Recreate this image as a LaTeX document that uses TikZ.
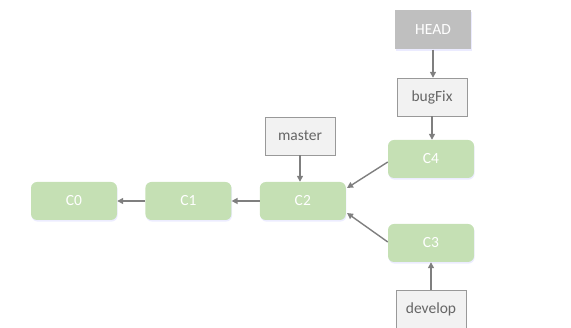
\documentclass[tikz,border=0pt]{standalone}
\usepackage{fontspec}
\setmainfont{Carlito}
\usetikzlibrary{positioning, arrows.meta, shadows}
\definecolor{commitgreen}{HTML}{C5E0B4}
\definecolor{refgray}{HTML}{F2F2F2}
\definecolor{headgray}{HTML}{BFBFBF}
\definecolor{linegray}{HTML}{7F7F7F}

\begin{document}
\begin{tikzpicture}[
      x=1pt, y=-1pt,
      node distance=28pt,
      commit/.style={
        rectangle,
        rounded corners=6pt,
        fill=commitgreen,
        text=white,
        minimum width=86pt,
        minimum height=38pt,
        font=\fontsize{15.5}{18}\selectfont,
        drop shadow={opacity=0.12, shadow xshift=0.6pt, shadow yshift=-1.6pt, fill=blue!60}
      },
      branch/.style={
        draw=linegray!80,
        rectangle,
        fill=refgray,
        text=black!60,
        minimum width=70pt,
        minimum height=38pt,
        font=\fontsize{15.5}{18}\selectfont
      },
      head/.style={
        rectangle,
        fill=headgray,
        text=white,
        minimum width=76pt,
        minimum height=39pt,
        font=\fontsize{15.5}{18}\selectfont,
        drop shadow={opacity=0.2, shadow xshift=1pt, shadow yshift=-1.5pt, fill=blue!40}
      },
      arrow/.style={-{Triangle[length=6pt,width=6pt]}, draw=linegray, line width=1.4pt}
    ]
    \useasboundingbox (0,0) rectangle (571,328);

    % Commits
    \node [commit] (c0) at (74,201) {C0};
    \node [commit, right=of c0] (c1) {C1};
    \node [commit, right=of c1] (c2) {C2};
    \node [commit] (c4) at (431,159) {C4};
    \node [commit] (c3) at (431,243) {C3};

    % Branches and HEAD
    \node [branch] (master) at (300,136) {master};
    \node [branch] (bugfix) at (432,97) {bugFix};
    \node [branch] (develop) at (431,309) {develop};
    \node [head] (head) at (433,30) {HEAD};

    % Parent links (y axis points down, so pt shifts are flipped)
    \draw [arrow] (c1) -- (c0);
    \draw [arrow] (c2) -- (c1);
    \draw [arrow] (c4.west) ++(0,3) -- ([shift={(1pt,13pt)}]c2.east);
    \draw [arrow] (c3.west) ++(0,-1) -- ([shift={(1pt,-12pt)}]c2.east);

    % References
    \draw [arrow] (master) -- (master |- c2.north);
    \draw [arrow] (bugfix) -- (bugfix |- c4.north);
    \draw [arrow] (head) -- (head |- bugfix.north);
    \draw [arrow] (develop) -- (develop |- c3.south);
  \end{tikzpicture}
\end{document}
